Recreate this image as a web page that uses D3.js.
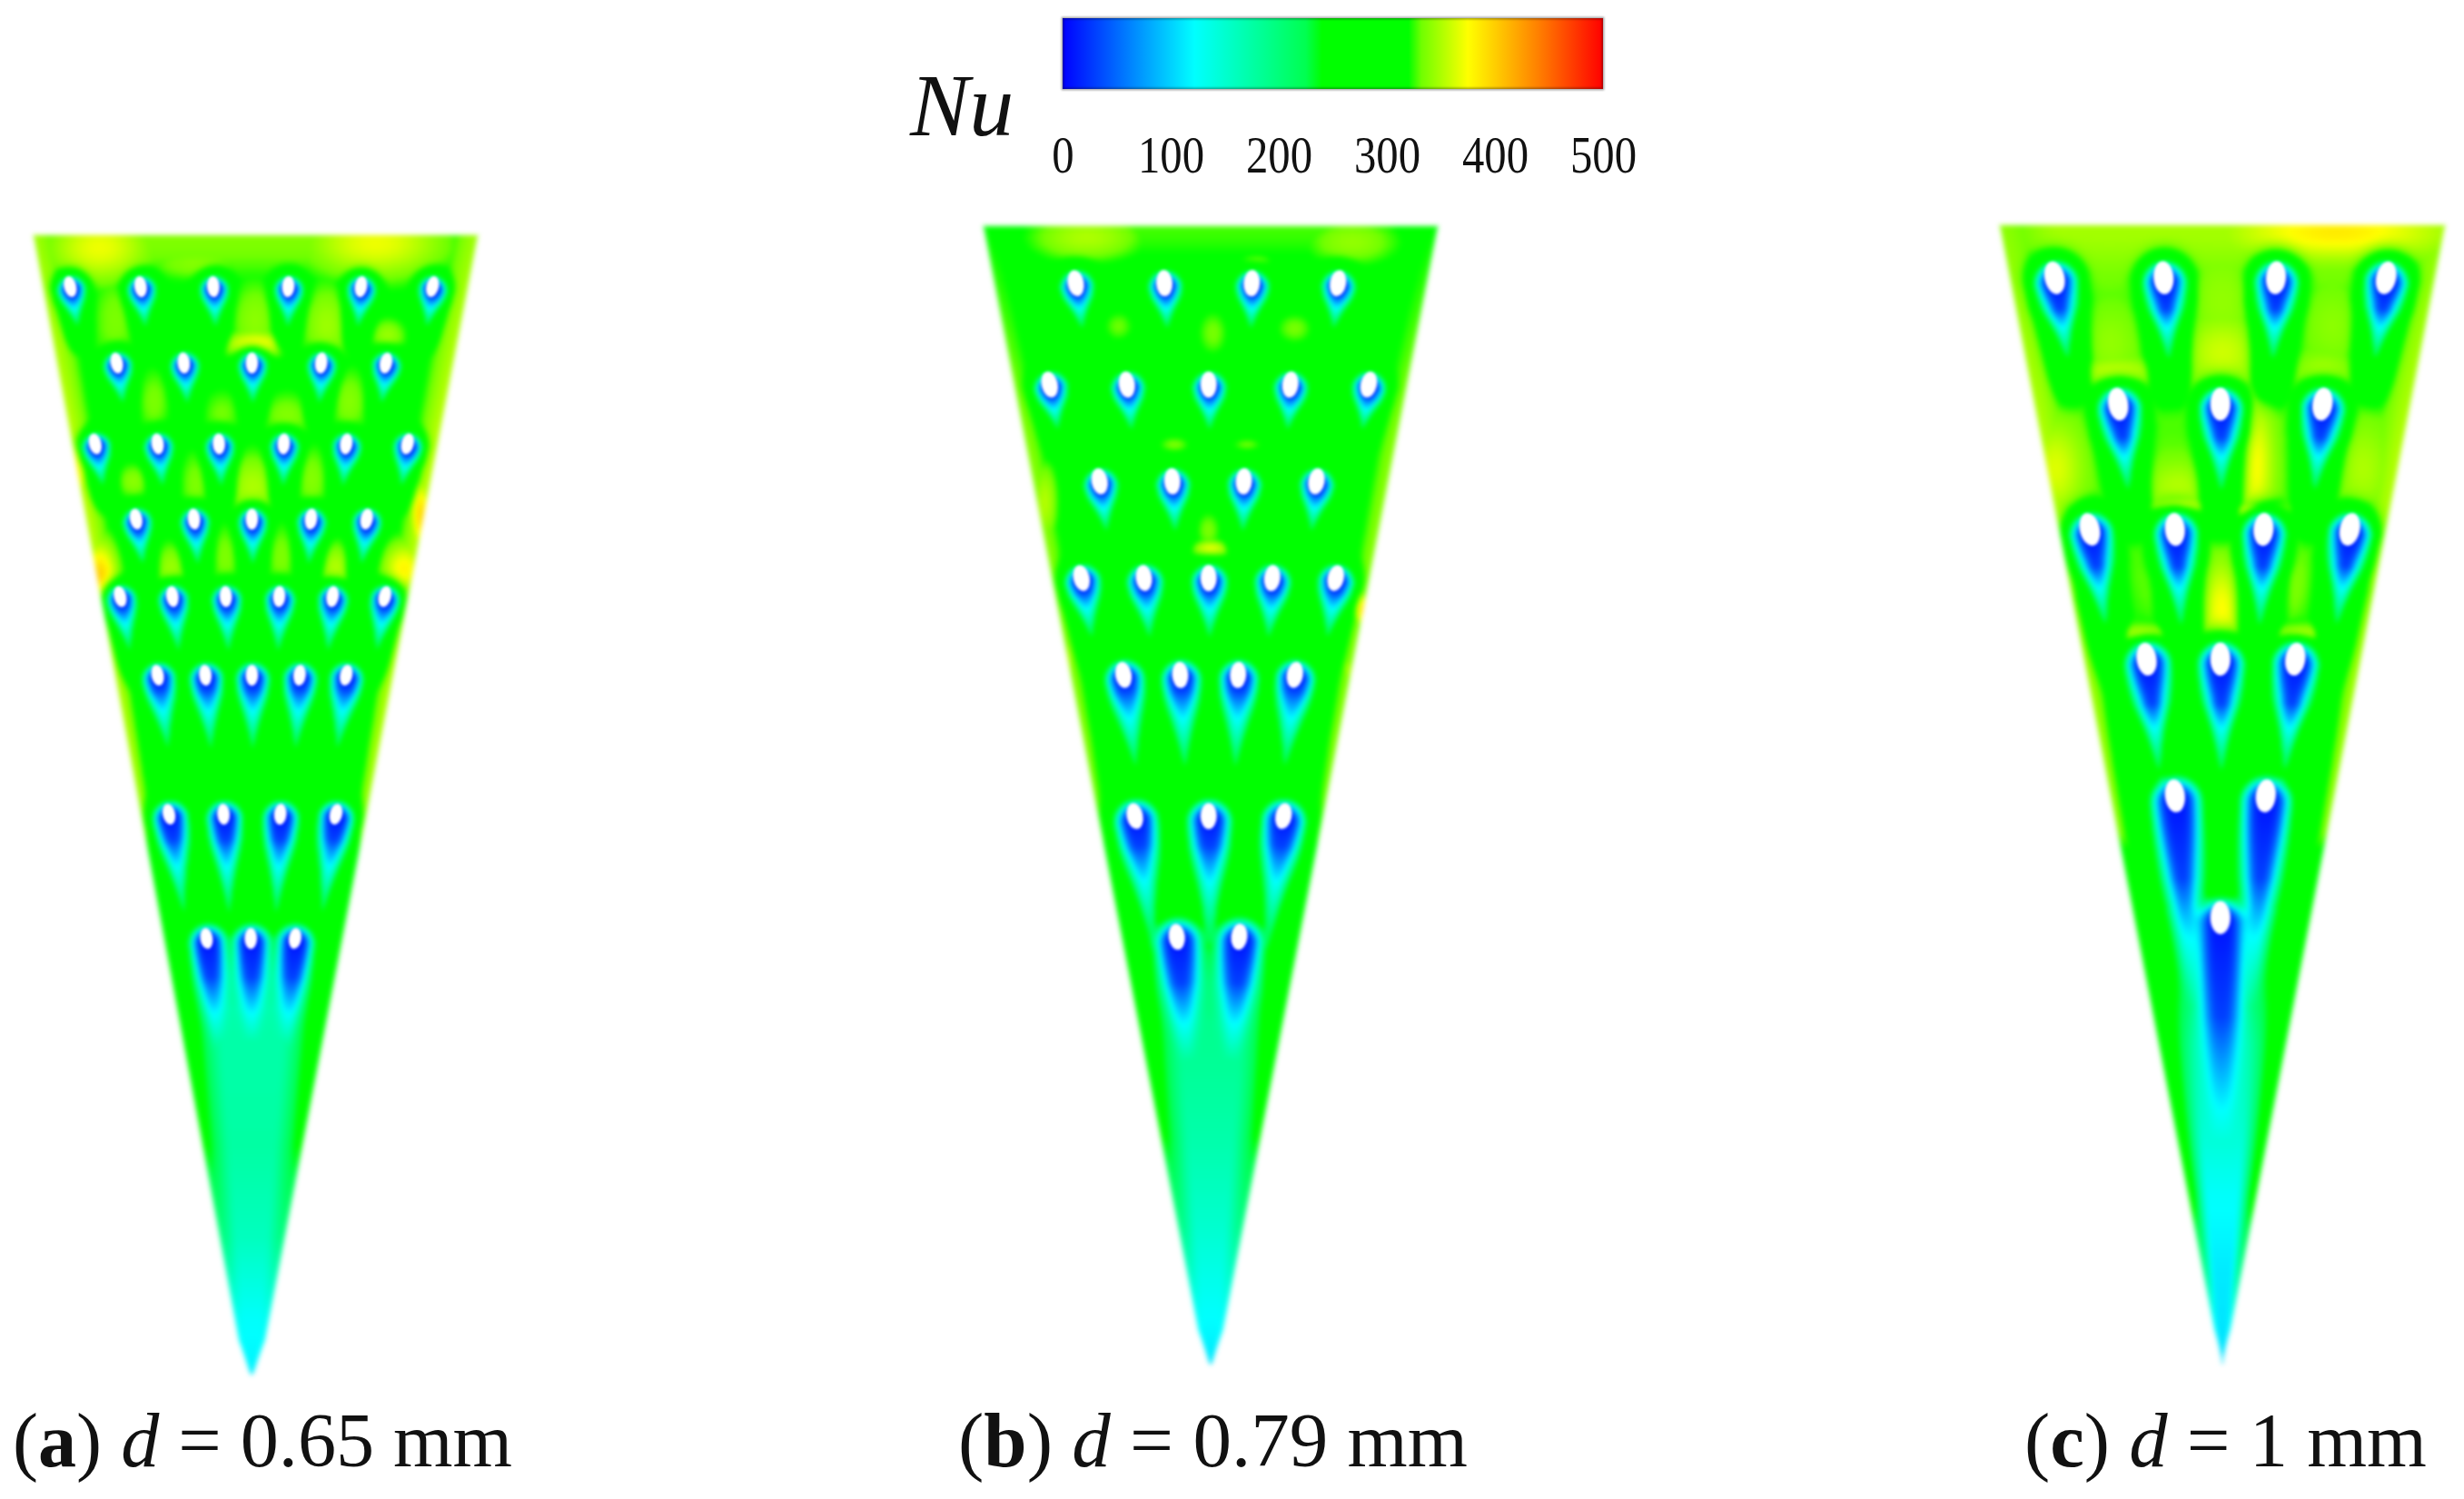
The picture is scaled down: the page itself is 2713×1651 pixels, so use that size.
<!DOCTYPE html>
<html>
<head>
<meta charset="utf-8">
<script src="https://cdn.jsdelivr.net/npm/d3@7"></script>
<style>
  html, body { margin: 0; background: #fff; }
  #wrap { position: relative; width: 2713px; height: 1651px; overflow: hidden; }
  canvas, svg { position: absolute; left: 0; top: 0; }
  text { font-family: "Liberation Serif", serif; fill: #111; }
</style>
</head>
<body>
<div id="wrap">
  <canvas id="field" width="2713" height="1651"></canvas>
  <svg width="2713" height="1651"></svg>
</div>
<script>
// colour bar
const nuTicks = [0, 100, 200, 300, 400, 500]
const colorStops = [0, 122, 225, 240, 320, 332, 375, 440, 500]
const colorValues = ['#0000ff', '#00ffff', '#00ff50', '#00ff00', '#00ff00', '#70ff00', '#ffff00', '#ff8000', '#ff0000']

// plate coordinates: y runs 0 (wide end) to 100 (tip), x from the centre line, same units
// hole rows, with wake length / wake half width / where the blue core ends
const rowYA = [4.6, 11.3, 18.4, 25.0, 31.8, 38.7, 50.9, 61.8]
const rowXA = [
  [-15.9, -9.7, -3.3, 3.3, 9.7, 16.0],
  [-11.8, -5.9, 0.1, 6.2, 11.9],
  [-13.7, -8.2, -2.8, 2.9, 8.4, 13.8],
  [-10.1, -5.0, 0.1, 5.3, 10.2],
  [-11.5, -6.9, -2.2, 2.5, 7.2, 11.8],
  [-8.2, -4.0, 0.1, 4.3, 8.4],
  [-7.2, -2.4, 2.6, 7.5],
  [-3.9, 0, 3.9]
]
const wakeLenA = [4, 4, 4.2, 4.5, 5.5, 7.5, 10, 14]
const wakeWidthA = [1.2, 1.2, 1.2, 1.2, 1.25, 1.4, 1.5, 1.5]
const blueEndA = [0.22, 0.22, 0.22, 0.22, 0.18, 0.16, 0.22, 0.24]

const rowYB = [5.1, 14.0, 22.5, 31.0, 39.5, 51.9, 62.5]
const rowXB = [
  [-11.8, -4.0, 3.7, 11.3],
  [-14.1, -7.3, -0.1, 7.1, 14.0],
  [-9.7, -3.3, 3.0, 9.4],
  [-11.3, -5.8, -0.1, 5.5, 11.1],
  [-7.6, -2.6, 2.5, 7.5],
  [-6.6, -0.1, 6.5],
  [-2.9, 2.6]
]
const wakeLenB = [4.5, 4.5, 5, 6, 9.5, 13, 16]
const wakeWidthB = [1.4, 1.4, 1.4, 1.5, 1.65, 1.85, 1.9]
const blueEndB = [0.24, 0.24, 0.22, 0.2, 0.14, 0.2, 0.25]

const rowYC = [4.7, 15.8, 26.8, 38.2, 50.2, 60.9]
const rowXC = [
  [-14.7, -5.1, 4.8, 14.5],
  [-9.1, -0.1, 8.9],
  [-11.6, -4.1, 3.7, 11.3],
  [-6.6, -0.1, 6.5],
  [-4.1, 3.9],
  [-0.1]
]
const wakeLenC = [8, 8.5, 9.5, 11, 24, 36]
const wakeWidthC = [1.85, 1.85, 1.85, 1.95, 2.15, 2.15]
const blueEndC = [0.34, 0.34, 0.34, 0.35, 0.3, 0.24]

// warm patches on the plate: x, y, spread x, spread y, peak Nu
const hotA = [
  [-13.4, 1.1, 3, 2, 370], [10.9, 0.7, 4, 2, 370], [-12, 7.5, 1.5, 3, 335],
  [-4.9, 2.5, 3, 1, 338], [0.3, 7.5, 1.5, 2.5, 340], [6.6, 7.9, 1.5, 2.5, 345], [12, 8.9, 1, 1, 345],
  [0.3, 9.6, 1.6, 0.7, 385], [-8.6, 14.6, 1, 2, 335], [-2.6, 15.7, 1.2, 1.5, 333], [3.1, 16, 1.5, 1.5, 338],
  [8.6, 14.6, 1.2, 2, 338], [-10.4, 21.6, 1, 1, 340], [-4.9, 21.8, 1, 2, 336], [0.1, 22.1, 1.8, 2, 350],
  [5.3, 21.4, 1, 2, 338], [-2.3, 28.2, 1, 2, 336], [2.6, 28.2, 1, 2, 336], [-7.1, 29.3, 1, 1.5, 345],
  [7.4, 29.3, 1, 1.5, 352], [-13.4, 30, 1, 2, 400], [13.4, 29.3, 1.2, 1.5, 380], [-15.4, 20.4, 0.8, 2, 385],
  [14.9, 24.6, 0.6, 2, 395]
]
const hotB = [
  [-10.9, 1, 3.5, 1.5, 350], [12.5, 1.4, 3, 1.5, 342], [-8.1, 8.8, 1, 1, 332],
  [0.2, 9.4, 1, 1.5, 334], [7.4, 9, 1.2, 1, 334], [3.9, 3.1, 1, 0.4, 345], [-3.2, 19.2, 1, 0.5, 335],
  [3.2, 19.2, 1, 0.4, 332], [0, 28.4, 1, 0.5, 375], [-0.2, 26.7, 0.8, 1.2, 335], [-14.6, 24.3, 0.8, 2.5, 352],
  [13.4, 33.7, 0.5, 1, 395], [-12.6, 38.6, 0.4, 2, 355], [12.2, 39, 0.4, 1, 350], [2.5, 37.1, 0.8, 0.3, 335]
]
const hotC = [
  [10, 0.6, 6, 1.5, 385], [-13.1, 1, 3, 1, 338], [0, 6.7, 2.2, 3, 342],
  [0, 11.2, 2.2, 2, 360], [-9.8, 10.4, 1.5, 2, 342], [8.9, 12.9, 1.5, 1, 350], [9.7, 8.8, 1.5, 2, 340],
  [-9.3, 12.9, 2, 0.7, 362], [2.9, 21, 1, 3.5, 375], [3.2, 25.1, 1.2, 0.4, 430], [-3.9, 24.7, 1.1, 0.4, 420],
  [-3.9, 23, 2, 1.5, 352], [-14.7, 21.4, 1.5, 2.5, 365], [12.4, 21.4, 1.5, 2.5, 350], [0, 33.7, 1.3, 2.5, 375],
  [-6.8, 36.1, 1.1, 0.5, 430], [6.7, 36.1, 1.1, 0.5, 430], [-5.5, 31.2, 0.8, 2, 340], [5.9, 31.2, 0.8, 2, 340],
  [-13.1, 30, 1, 3, 358], [13.3, 29.2, 1, 3, 358]
]

// Nu toward the tip: stops along y, value on the centre line, value at the side
const tipYA = [60, 68, 80, 88, 95, 100]
const tipCentreA = [270, 172, 176, 160, 125, 115]
const tipEdgeA = [285, 270, 240, 195, 130, 115]
const tipYB = [60, 70, 80, 88, 95, 100]
const tipCentreB = [270, 190, 172, 150, 125, 110]
const tipEdgeB = [285, 270, 240, 190, 130, 110]
const tipYC = [60, 72, 85, 92, 96, 100]
const tipCentreC = [270, 180, 125, 112, 110, 105]
const tipEdgeC = [285, 275, 255, 190, 130, 105]

// plate level per panel, extra Nu along the wide end, extra Nu along the side edges
const plateNu = [312, 305, 328]
const topGain = [25, 22, 20]
const sideY = [0, 20, 45, 60, 70]
const sideGainA = [345, 355, 350, 335, 290]
const sideGainB = [320, 338, 338, 322, 290]
const sideGainC = [340, 352, 345, 335, 290]

// hole size per panel (half axes of the white mark), apparent apex of the plate past its rounded tip
const holeRx = [0.55, 0.72, 0.88]
const holeRy = [0.92, 1.15, 1.45]
const apexY = [103, 102.5, 100.6]

const caption = [['a', '0.65'], ['b', '0.79'], ['c', '1']]
const captionWidth = [550, 561, 443]

const nuColor = d3.scaleLinear().domain(colorStops).range(colorValues).clamp(true)
const colorLut = d3.range(0, 521).map(v => d3.rgb(nuColor(v)))

function clampScale(domain, range) {
  return d3.scaleLinear().domain(domain).range(range).clamp(true)
}

const panels = [
  { rowY: rowYA, rowX: rowXA, len: wakeLenA, width: wakeWidthA, blue: blueEndA, hot: hotA,
    x: d3.scaleLinear().domain([-19.2, 19.9]).range([36, 525]), y: d3.scaleLinear().domain([0, 100]).range([258, 1513]),
    centre: clampScale(tipYA, tipCentreA), edge: clampScale(tipYA, tipEdgeA), side: clampScale(sideY, sideGainA),
    hw: [19.2, 19.9], capX: 14 },
  { rowY: rowYB, rowX: rowXB, len: wakeLenB, width: wakeWidthB, blue: blueEndB, hot: hotB,
    x: d3.scaleLinear().domain([-20, 20]).range([1082, 1582]), y: d3.scaleLinear().domain([0, 100]).range([248, 1502]),
    centre: clampScale(tipYB, tipCentreB), edge: clampScale(tipYB, tipEdgeB), side: clampScale(sideY, sideGainB),
    hw: [20, 20], capX: 1055 },
  { rowY: rowYC, rowX: rowXC, len: wakeLenC, width: wakeWidthC, blue: blueEndC, hot: hotC,
    x: d3.scaleLinear().domain([-19.6, 19.6]).range([2201, 2691]), y: d3.scaleLinear().domain([0, 100]).range([247, 1501]),
    centre: clampScale(tipYC, tipCentreC), edge: clampScale(tipYC, tipEdgeC), side: clampScale(sideY, sideGainC),
    hw: [19.6, 19.6], capX: 2229 }
]

// flatten rows into holes
panels.forEach((p, i) => {
  p.base = plateNu[i]
  p.top = topGain[i]
  p.apex = apexY[i]
  p.holes = []
  p.rowX.forEach((xs, r) => {
    const b = p.blue[r]
    const wakeValue = clampScale([0, b, b + (1 - b) * 0.3, 1], [8, 30, 122, 280])
    xs.forEach(hx => {
      const dirLen = Math.hypot(hx, 100 - p.rowY[r])
      p.holes.push({
        x: hx, y: p.rowY[r], len: p.len[r], w: p.width[r], wake: wakeValue,
        dx: -hx / dirLen, dy: (100 - p.rowY[r]) / dirLen
      })
    })
  })
})

function smooth(a, b, v) {
  const t = Math.max(0, Math.min(1, (v - a) / (b - a)))
  return t * t * (3 - 2 * t)
}

// Nu at a point of the plate
function nuAt(p, ux, uy, halfW) {
  const s = Math.abs(ux) / Math.max(halfW, 0.01)
  // the warm plate level dies away in the lower half, it is plain green there
  const base = p.base + (Math.min(p.base, 295) - p.base) * smooth(30, 48, uy)
  let nu = base

  nu += p.top * Math.exp(-Math.pow(uy / 4, 2)) * (1 - smooth(0.72, 1, s))
  p.hot.forEach(h => {
    const ex = (ux - h[0]) / h[2], ey = (uy - h[1]) / h[3]
    const e = (ex * ex + ey * ey) / 2.4
    if (e < 9) nu = Math.max(nu, base + (h[4] - base) * Math.exp(-e))
  })
  nu = Math.max(nu, base + (p.side(uy) - base) * smooth(0.82, 1, s))

  if (uy > 60) {
    const c = p.centre(uy), ed = p.edge(uy)
    nu = Math.min(nu, ed + (c - ed) * (1 - smooth(0.4, 0.92, s)))
  } else if (uy > 50) {
    nu = Math.min(nu, 350 - (350 - 285) * smooth(50, 60, uy))
  }

  // cooler green sleeve round each wake, then the wake itself
  let halo = 0
  const cores = []
  p.holes.forEach(h => {
    const rx = ux - h.x, ry = uy - h.y
    const a = rx * h.dx + ry * h.dy
    const c = -rx * h.dy + ry * h.dx
    if (a < -h.w * 2.5 || a > h.len * 1.6 || Math.abs(c) > h.w * 3) return
    const t = a / h.len
    const sleeve = a < 0
      ? Math.exp(-Math.pow(Math.hypot(a, c) / (h.w * 1.45), 4))
      : Math.exp(-Math.pow(Math.abs(c) / (h.w * 1.45 * Math.max(1 - 0.3 * t, 0.4)), 4)) * (1 - smooth(1, 1.6, t))
    halo = Math.max(halo, sleeve)
    if (t >= 1) return
    // the head sits a little behind the white mark, flat blue there, softer down the tail
    const head = a - h.w * 0.25
    const power = 4 - 1.6 * smooth(0, 0.35, t)
    const g = head < 0
      ? Math.exp(-Math.pow(Math.hypot(head, c) / h.w, power))
      : Math.exp(-Math.pow(Math.abs(c) / (h.w * (1 - 0.78 * smooth(0, 0.9, t))), power))
    cores.push([h.wake(Math.max(t, 0)), g])
  })
  if (nu > 290) nu = nu + (290 - nu) * halo
  cores.forEach(k => { if (k[0] < nu) nu += (k[0] - nu) * k[1] })
  return nu
}

// paint the field at half size and let the browser smooth it up, the source picture is soft too
const canvas = document.getElementById('field')
const ctx = canvas.getContext('2d')
const step = 2
panels.forEach(p => {
  const x0 = Math.floor(p.x.range()[0]) - 6, x1 = Math.ceil(p.x.range()[1]) + 6
  const y0 = Math.floor(p.y.range()[0]) - 6, y1 = Math.ceil(p.y.range()[1]) + 6
  const w = Math.ceil((x1 - x0) / step), h = Math.ceil((y1 - y0) / step)
  const small = document.createElement('canvas')
  small.width = w
  small.height = h
  const sctx = small.getContext('2d')
  const img = sctx.createImageData(w, h)
  const unit = Math.abs(p.y(1) - p.y(0))
  for (let j = 0; j < h; j++) {
    const uy = p.y.invert(y0 + j * step)
    // straight sides running to an apex just past the tip, rounded off over the last stretch
    const taper = Math.max(1 - uy / p.apex, 0) * Math.sqrt(Math.min(Math.max(100 - uy, 0) / 3, 1))
    for (let i = 0; i < w; i++) {
      const ux = p.x.invert(x0 + i * step)
      const halfW = (ux < 0 ? p.hw[0] : p.hw[1]) * taper
      const inside = Math.min((halfW - Math.abs(ux)) * unit, (uy) * unit, (100 - uy) * unit)
      const alpha = Math.max(0, Math.min(1, inside / 4 + 0.5))
      if (alpha <= 0) continue
      const nu = nuAt(p, ux, uy, halfW)
      const col = colorLut[Math.max(0, Math.min(520, Math.round(nu)))]
      const k = (j * w + i) * 4
      img.data[k] = col.r
      img.data[k + 1] = col.g
      img.data[k + 2] = col.b
      img.data[k + 3] = alpha * 255
    }
  }
  sctx.putImageData(img, 0, 0)
  ctx.imageSmoothingEnabled = true
  ctx.imageSmoothingQuality = 'high'
  ctx.filter = 'blur(2.5px)'
  ctx.drawImage(small, x0, y0, w * step, h * step)
  ctx.filter = 'none'
})

const svg = d3.select('svg')
const defs = svg.append('defs')
defs.append('filter').attr('id', 'soft').append('feGaussianBlur').attr('stdDeviation', 1.5)

// white hole marks
panels.forEach((p, i) => {
  svg.append('g').attr('filter', 'url(#soft)')
    .selectAll('ellipse')
    .data(p.holes)
    .join('ellipse')
    .attr('rx', holeRx[i] * Math.abs(p.x(1) - p.x(0)))
    .attr('ry', holeRy[i] * Math.abs(p.y(1) - p.y(0)))
    .attr('fill', '#fff')
    .attr('transform', d => {
      const tilt = Math.atan(d.x / (100 - d.y)) * 180 / Math.PI * 1.4
      return `translate(${p.x(d.x)},${p.y(d.y)}) rotate(${tilt})`
    })
})

// colour bar with its axis
const barScale = d3.scaleLinear().domain([0, 500]).range([1170, 1765])
const grad = defs.append('linearGradient').attr('id', 'bar')
grad.selectAll('stop')
  .data(colorStops)
  .join('stop')
  .attr('offset', d => d / 500)
  .attr('stop-color', d => nuColor(d))

svg.append('rect')
  .attr('x', barScale(0)).attr('y', 20)
  .attr('width', barScale(500) - barScale(0)).attr('height', 78)
  .attr('fill', 'url(#bar)')
svg.append('rect')
  .attr('x', barScale(0)).attr('y', 20)
  .attr('width', barScale(500) - barScale(0)).attr('height', 78)
  .attr('fill', 'none').attr('stroke', '#000').attr('stroke-opacity', 0.4).attr('stroke-width', 2.5)
  .style('filter', 'blur(1px)')

const axis = svg.append('g')
  .attr('transform', 'translate(0,190)')
  .call(d3.axisBottom(barScale).tickValues(nuTicks).tickSize(0).tickFormat(d3.format('d')))
axis.select('.domain').remove()
axis.selectAll('text')
  .attr('y', 0).attr('dy', 0)
  .attr('transform', 'scale(0.84,1)')
  .style('font-family', '"Liberation Serif", serif')
  .style('font-size', '58px')
  .style('fill', '#111')

svg.append('text')
  .attr('x', 1002).attr('y', 149)
  .style('font-size', '98px').style('font-style', 'italic')
  .text('Nu')

// captions under the plates
panels.forEach((p, i) => {
  const t = svg.append('text')
    .attr('x', p.capX).attr('y', 1615)
    .attr('xml:space', 'preserve')
    .attr('textLength', captionWidth[i])
    .attr('lengthAdjust', 'spacingAndGlyphs')
    .style('font-size', '85px')
  t.append('tspan').text('(')
  t.append('tspan').style('font-weight', 'bold').text(caption[i][0])
  t.append('tspan').text(') ')
  t.append('tspan').style('font-style', 'italic').text('d')
  t.append('tspan').text(` = ${caption[i][1]} mm`)
})
</script>
</body>
</html>
